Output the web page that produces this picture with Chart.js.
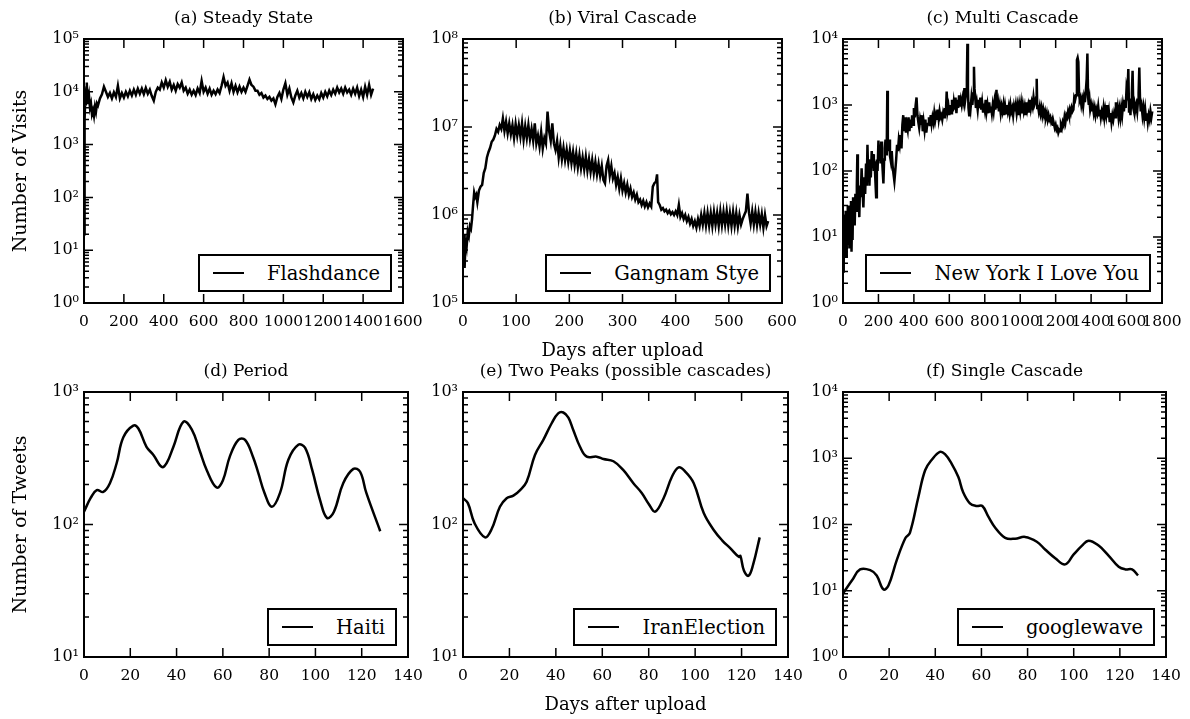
<!DOCTYPE html>
<html>
<head>
<meta charset="utf-8">
<script src="https://cdn.jsdelivr.net/npm/chart.js@4.4.1/dist/chart.umd.min.js"></script>
<style>
  body { margin: 0; background: #fff; width: 1190px; height: 719px; position: relative; overflow: hidden; font-family: "DejaVu Serif", serif; }
  .panel { position: absolute; }
  .panel canvas { position: absolute; left: 0; top: 0; }
  .legend { position: absolute; border: 2px solid #000; background: #fff; display: flex; align-items: center;
            height: 34px; font-size: 19.5px; padding: 0 10px 0 13px; white-space: nowrap; color: #000; }
  .legend .swatch { width: 31px; height: 0; border-top: 2.5px solid #000; margin-right: 23px; }
</style>
</head>
<body>
<script>
// (a) Flashdance, daily visits
const flashdanceDays = [
  0, 2, 4, 6, 8, 10, 12, 14, 16, 18, 20, 25, 30, 35, 40, 45, 50, 55, 60, 65, 70, 80, 90, 100,
  110, 120, 130, 140, 150, 160, 170, 180, 190, 200,
  210, 220, 230, 240, 250, 260, 270, 280, 290, 300,
  310, 320, 330, 340, 350, 360, 370, 380, 390, 400,
  410, 420, 430, 440, 450, 460, 470, 480, 490, 500,
  510, 520, 530, 540, 550, 560, 570, 580, 590, 600,
  610, 620, 630, 640, 650, 660, 670, 680, 690, 700,
  710, 720, 730, 740, 750, 760, 770, 780, 790, 800,
  810, 820, 830, 840, 850, 860, 870, 880, 890, 900,
  910, 920, 930, 940, 950, 960, 970, 980, 990, 1000,
  1010, 1020, 1030, 1040, 1050, 1060, 1070, 1080, 1090, 1100,
  1110, 1120, 1130, 1140, 1150, 1160, 1170, 1180, 1190, 1200,
  1210, 1220, 1230, 1240, 1250, 1260, 1270, 1280, 1290, 1300,
  1310, 1320, 1330, 1340, 1350, 1360, 1370, 1380, 1390, 1400,
  1410, 1420, 1430, 1440, 1450
];
const flashdanceVisits = [
  20, 300, 3000, 7000, 5500, 9000, 12000, 15000, 8000, 11000, 6000, 8500, 5000, 6000, 3800, 4500, 3500, 5200, 4200, 6000, 5500, 7500, 9000, 12500,
  10000, 8000, 9500, 7500, 9800, 8000, 13000, 7500, 9500, 7800,
  10000, 8200, 10500, 8500, 11000, 8800, 11500, 9200, 11500, 9000,
  11800, 9200, 11000, 8300, 6800, 10000, 12000, 11000, 15000, 12000,
  16500, 12500, 15500, 11000, 13500, 10500, 14000, 12000, 15000, 10500,
  12000, 9200, 11000, 8800, 10500, 8700, 11500, 9500, 16000, 10000,
  12000, 9200, 11500, 8800, 10500, 9000, 11000, 9500, 13000, 19000,
  13000, 15000, 10500, 14500, 10000, 13000, 9800, 12500, 10000, 12000,
  10000, 13000, 17000, 13500, 12500, 10500, 10500, 8800, 9500, 7800,
  8500, 7300, 8000, 6800, 7500, 5800, 8000, 9500, 7300, 11000,
  14500, 8800, 11500, 7800, 6300, 8500, 10500, 7800, 9500, 7500,
  10000, 8000, 9800, 7300, 9000, 7000, 8500, 7200, 9500, 7800,
  10000, 8200, 10500, 8700, 11000, 9200, 12000, 9700, 11500, 9200,
  12000, 9700, 11000, 8800, 11500, 9200, 12000, 8300, 11000, 8000,
  12500, 8800, 13500, 8800, 11500
];

// (b) Gangnam Style, daily visits
const gangnamDays = [
  0, 2, 3, 5, 7, 9, 11, 13, 15, 17,
  19, 21, 23, 25, 27, 30, 33, 36, 39, 42,
  45, 48, 51, 54, 57, 60, 63, 66, 69, 72,
  75, 78, 81, 84, 87, 90, 93, 96, 99, 102,
  105, 108, 111, 114, 117, 120, 123, 126, 129, 132,
  135, 138, 141, 144, 147, 150, 153, 156, 159, 162,
  165, 168, 171, 174, 177, 180, 183, 186, 189, 192,
  195, 198, 201, 204, 207, 210, 213, 216, 219, 222,
  225, 228, 231, 234, 237, 240, 243, 246, 249, 252,
  255, 258, 261, 264, 267, 270, 273, 276, 279, 282,
  285, 288, 291, 294, 297, 300, 303, 306, 309, 312,
  315, 318, 321, 324, 327, 330, 333, 336, 339, 342,
  345, 348, 351, 354, 357, 360, 363, 365, 367, 370,
  373, 376, 379, 382, 385, 388, 391, 394, 397, 400,
  403, 406, 409, 412, 415, 418, 421, 424, 427, 430,
  433, 436, 439, 442, 445, 448, 451, 454, 457, 460,
  463, 466, 469, 472, 475, 478, 481, 484, 487, 490,
  493, 496, 499, 502, 505, 508, 511, 514, 517, 520,
  523, 526, 529, 532, 535, 538, 541, 544, 547, 550,
  553, 556, 559, 562, 565, 568, 571, 574
];
const gangnamVisits = [
  420000, 600000, 250000, 550000, 450000, 650000, 580000, 750000, 700000, 900000,
  1300000, 1800000, 1600000, 1700000, 1400000, 1900000, 2100000, 2200000, 3000000, 3400000,
  4500000, 5200000, 5800000, 6800000, 7200000, 8000000, 9500000, 8800000, 10500000, 9500000,
  12500000, 9000000, 11500000, 8500000, 11000000, 8300000, 10500000, 7500000, 10800000, 8000000,
  10500000, 7800000, 11000000, 7200000, 10200000, 7500000, 10500000, 7300000, 9500000, 7000000,
  11000000, 6500000, 8000000, 6000000, 8800000, 5700000, 7500000, 6500000, 15000000, 9000000,
  7000000, 11000000, 6500000, 5500000, 7000000, 4500000, 6200000, 4300000, 5800000, 4200000,
  5500000, 4000000, 5400000, 3900000, 5200000, 3700000, 5000000, 3500000, 4800000, 3400000,
  4500000, 3300000, 4600000, 3200000, 4300000, 3100000, 4200000, 3000000, 4000000, 2900000,
  3800000, 2800000, 3600000, 2500000, 2300000, 3600000, 4200000, 2800000, 3600000, 2600000,
  3000000, 2200000, 2700000, 2000000, 2600000, 1900000, 2300000, 1800000, 2200000, 1700000,
  2000000, 1600000, 1800000, 1500000, 1700000, 1400000, 1500000, 1300000, 1450000, 1250000,
  1400000, 1220000, 1350000, 1250000, 2100000, 2300000, 2400000, 2900000, 1400000, 1300000,
  1150000, 1200000, 1100000, 1150000, 1050000, 1120000, 1020000, 1080000, 1000000, 1100000,
  1000000, 1300000, 950000, 1050000, 900000, 1000000, 850000, 950000, 800000, 900000,
  750000, 850000, 720000, 900000, 750000, 1000000, 780000, 1050000, 760000, 1050000,
  760000, 1050000, 750000, 1080000, 780000, 1050000, 750000, 1100000, 770000, 1080000,
  780000, 1100000, 760000, 1050000, 750000, 1080000, 760000, 1050000, 740000, 1000000,
  780000, 900000, 1000000, 1100000, 1750000, 1050000, 800000, 1100000, 780000, 1080000,
  770000, 1050000, 780000, 1020000, 720000, 1000000, 750000, 850000
];

// (c) New York I Love You, daily visits
const newYorkDays = [
  0, 3, 5, 7, 9, 11, 13, 15, 18, 21,
  24, 27, 30, 33, 36, 39, 42, 45, 48, 51,
  54, 57, 60, 63, 66, 70, 74, 78, 81, 84,
  88, 92, 96, 100, 105, 110, 115, 120, 125, 130,
  134, 138, 142, 146, 149, 153, 157, 162, 166, 170,
  174, 178, 182, 187, 191, 195, 200, 204, 208, 212,
  216, 220, 224, 228, 232, 236, 240, 244, 247, 250,
  253, 257, 261, 265, 270, 275, 280, 285, 290, 295,
  300, 305, 310, 315, 320, 325, 330, 335, 340, 345,
  350, 355, 360, 365, 370, 375, 380, 385, 390, 395,
  400, 405, 410, 415, 420, 425, 430, 435, 440, 445,
  450, 455, 460, 465, 470, 475, 480, 485, 490, 495,
  500, 505, 510, 515, 520, 525, 530, 535, 540, 545,
  550, 555, 560, 565, 570, 575, 580, 585, 590, 595,
  600, 605, 610, 615, 620, 625, 630, 635, 640, 645,
  650, 655, 660, 665, 670, 676, 681, 685, 690, 695,
  699, 702, 705, 708, 712, 716, 720, 725, 730, 735,
  739, 742, 746, 750, 755, 760, 765, 770, 775, 780,
  785, 790, 795, 800, 805, 810, 815, 820, 825, 830,
  835, 840, 845, 850, 855, 860, 866, 870, 875, 880,
  885, 890, 895, 900, 905, 910, 915, 920, 925, 930,
  935, 940, 945, 950, 955, 960, 965, 970, 975, 980,
  985, 990, 995, 1000, 1005, 1010, 1015, 1020, 1025, 1030,
  1035, 1040, 1045, 1050, 1055, 1060, 1065, 1070, 1075, 1080,
  1085, 1090, 1093, 1096, 1100, 1105, 1110, 1115, 1120, 1125,
  1130, 1135, 1140, 1145, 1150, 1155, 1160, 1165, 1170, 1175,
  1180, 1185, 1190, 1195, 1200, 1205, 1210, 1215, 1220, 1225,
  1230, 1235, 1240, 1245, 1250, 1255, 1260, 1265, 1270, 1275,
  1280, 1285, 1290, 1295, 1300, 1305, 1310, 1315, 1320, 1324,
  1328, 1332, 1336, 1340, 1345, 1350, 1355, 1360, 1365, 1370,
  1375, 1379, 1383, 1387, 1391, 1395, 1400, 1405, 1410, 1415,
  1420, 1425, 1430, 1435, 1440, 1445, 1450, 1455, 1460, 1465,
  1470, 1475, 1480, 1485, 1490, 1495, 1500, 1505, 1510, 1515,
  1520, 1525, 1530, 1535, 1540, 1545, 1550, 1555, 1560, 1565,
  1570, 1575, 1580, 1585, 1590, 1595, 1600, 1605, 1610, 1614,
  1618, 1622, 1626, 1630, 1634, 1638, 1642, 1646, 1650, 1655,
  1660, 1665, 1668, 1672, 1676, 1680, 1685, 1690, 1695, 1700,
  1705, 1710, 1715, 1720, 1725, 1730, 1735, 1740, 1745
];
const newYorkVisits = [
  3, 20, 4, 15, 6, 22, 8, 25, 5, 18,
  8, 30, 10, 25, 7, 30, 12, 35, 6, 20,
  9, 40, 20, 30, 15, 45, 25, 60, 180, 30,
  50, 20, 60, 40, 110, 50, 28, 80, 45, 130,
  60, 250, 90, 150, 60, 120, 80, 200, 120, 180,
  100, 140, 80, 40, 150, 100, 290, 150, 250, 130,
  280, 160, 100, 65, 150, 220, 300, 180, 250, 1650,
  300, 200, 300, 170, 140, 200, 120, 90, 70, 100,
  150, 250, 200, 300, 250, 350, 220, 500, 700, 400,
  650, 380, 500, 420, 650, 400, 600, 450, 700, 500,
  900, 650, 1000, 1300, 700, 550, 450, 600, 500, 700,
  400, 550, 420, 600, 380, 500, 520, 650, 480, 700,
  520, 650, 550, 750, 580, 700, 600, 850, 620, 800,
  650, 700, 600, 750, 650, 900, 700, 1600, 800, 950,
  700, 1000, 750, 1200, 800, 1100, 850, 1300, 750, 1200,
  900, 1400, 950, 1200, 1000, 1300, 1100, 1800, 1200, 1500,
  2500, 8500, 1800, 900, 700, 1100, 900, 1300, 1000, 1500,
  3800, 1800, 1300, 900, 1100, 850, 1200, 900, 1300, 850,
  1100, 800, 1050, 850, 1200, 800, 1000, 750, 1100, 800,
  950, 750, 1000, 800, 1100, 850, 1700, 900, 1100, 800,
  1000, 750, 950, 800, 1000, 700, 950, 750, 1000, 800,
  950, 750, 1000, 800, 900, 700, 950, 800, 1000, 750,
  950, 700, 1000, 800, 1050, 750, 1000, 800, 950, 700,
  1100, 850, 1000, 800, 1200, 900, 1100, 950, 1300, 1000,
  1100, 1300, 2500, 900, 1000, 800, 950, 750, 900, 700,
  850, 700, 800, 650, 750, 600, 700, 600, 650, 550,
  600, 500, 520, 450, 500, 420, 450, 380, 420, 400,
  500, 450, 550, 500, 650, 550, 700, 650, 800, 700,
  850, 750, 900, 800, 850, 1300, 1200, 1400, 4800, 5200,
  4500, 1500, 1200, 1300, 1000, 1200, 950, 1300, 1100, 1600,
  2500, 6000, 1300, 1000, 1200, 850, 1000, 800, 950, 750,
  900, 700, 850, 750, 950, 700, 850, 650, 800, 700,
  900, 650, 850, 700, 1000, 650, 800, 550, 750, 550,
  700, 600, 750, 650, 1100, 700, 900, 650, 850, 650,
  900, 700, 1000, 800, 1200, 900, 1800, 1500, 3500, 800,
  1000, 700, 1200, 1500, 3300, 900, 800, 1000, 850, 1000,
  800, 1200, 1500, 3700, 1200, 800, 950, 700, 900, 650,
  850, 600, 750, 550, 700, 600, 800, 650, 800
];

// (d) Haiti, daily tweets
const haitiDays = [
  0, 3, 5.5, 8.3, 11.2, 14.1, 17, 21.3, 23.5, 27,
  30, 33.6, 35.7, 38.6, 43, 46.6, 50, 53, 57.3, 60,
  63, 66.7, 69.6, 73, 75.3, 78, 81.2, 84.7, 88.3, 92.6,
  95.5, 98.6, 102, 105, 108, 112, 116.4, 119.3, 122, 128
];
const haitiTweets = [
  125, 160, 182, 176, 205, 290, 455, 557, 530, 386,
  335, 272, 290, 385, 597, 520, 360, 258, 190, 215,
  325, 435, 435, 325, 245, 173, 136, 173, 308, 400,
  380, 258, 153, 112, 125, 205, 263, 250, 173, 89
];

// (e) IranElection, daily tweets
const iranDays = [
  0, 2.1, 5, 9.5, 12.3, 15.9, 18.8, 21.7, 24.6, 27.4,
  31, 34.6, 38.2, 41, 43.2, 45.4, 47.5, 50.4, 53.3, 57.6,
  60.5, 64.8, 69, 73.4, 77, 80, 82.8, 86.4, 90, 92.9,
  95.8, 99.4, 103.7, 108, 111.6, 115.2, 118.8, 119.5, 121, 123,
  125, 127.8
];
const iranTweets = [
  158, 145, 102, 80, 92, 136, 158, 165, 182, 210,
  335, 435, 581, 690, 700, 640, 517, 386, 325, 325,
  312, 300, 258, 205, 173, 143, 125, 158, 229, 270,
  250, 205, 122, 91, 76, 66, 57, 58, 45, 41,
  50, 80
];

// (f) googlewave, daily tweets
const googlewaveDays = [
  0, 4, 7.4, 11.8, 14.6, 17.5, 19.7, 23.3, 27, 29,
  32.7, 35.6, 38.5, 42, 44.2, 47, 50, 52, 55, 57.9,
  60.4, 63, 65.9, 70.3, 74.6, 78.9, 84, 87.6, 92, 96.3,
  99.9, 103.6, 106.5, 110.8, 115.1, 119.5, 122.4, 125.3, 127.9
];
const googlewaveTweets = [
  9.1, 14.5, 21, 20.5, 17, 10.5, 12, 29, 62, 75,
  263, 660, 950, 1250, 1150, 840, 520, 312, 209, 190,
  190, 131, 90, 63, 61, 65, 55, 42, 31, 25,
  35, 48, 57, 48, 34, 23, 21, 21, 17
];

// axis ticks
const steadyXTicks = [0, 200, 400, 600, 800, 1000, 1200, 1400, 1600];
const viralXTicks = [0, 100, 200, 300, 400, 500, 600];
const multiXTicks = [0, 200, 400, 600, 800, 1000, 1200, 1400, 1600, 1800];
const tweetXTicks = [0, 20, 40, 60, 80, 100, 120, 140];
const steadyYTicks = [1, 10, 100, 1000, 10000, 100000];
const viralYTicks = [100000, 1000000, 10000000, 100000000];
const multiYTicks = [1, 10, 100, 1000, 10000];
const tweetYTicks = [10, 100, 1000];
const singleYTicks = [1, 10, 100, 1000, 10000];

const FONT = '"DejaVu Serif", serif';
const TITLE_H = 39;
const X_AXIS_H = 60;
const PAD_RIGHT = 24;
const MAJOR = 9;
const MINOR = 5;
const SUP = ["\u2070", "\u00b9", "\u00b2", "\u00b3", "\u2074", "\u2075", "\u2076", "\u2077", "\u2078", "\u2079"];

Chart.defaults.color = "#000";
Chart.defaults.font.family = FONT;

// box round the plot, with inward ticks on all four sides (minor ones on the log axis)
const frameAndTicks = {
  id: "frameAndTicks",
  afterDraw(chart) {
    const { ctx, chartArea: area } = chart;
    const x = chart.scales.x;
    const y = chart.scales.y;
    ctx.save();
    ctx.strokeStyle = "#000";
    ctx.lineWidth = 1.5;
    ctx.beginPath();
    x.ticks.forEach((t) => {
      const px = x.getPixelForValue(t.value);
      ctx.moveTo(px, area.bottom);
      ctx.lineTo(px, area.bottom - MAJOR);
      ctx.moveTo(px, area.top);
      ctx.lineTo(px, area.top + MAJOR);
    });
    const lo = Math.round(Math.log10(y.min));
    const hi = Math.round(Math.log10(y.max));
    for (let e = lo; e <= hi; e++) {
      for (let k = 1; k <= 9; k++) {
        const v = k * Math.pow(10, e);
        if (v > y.max * 1.0001) break;
        const py = y.getPixelForValue(v);
        const len = k === 1 ? MAJOR : MINOR;
        ctx.moveTo(area.left, py);
        ctx.lineTo(area.left + len, py);
        ctx.moveTo(area.right, py);
        ctx.lineTo(area.right - len, py);
      }
    }
    ctx.stroke();
    ctx.lineWidth = 2;
    ctx.strokeRect(area.left, area.top, area.right - area.left, area.bottom - area.top);
    ctx.restore();
  },
};

const panels = [
  { title: "(a) Steady State", label: "Flashdance", days: flashdanceDays, counts: flashdanceVisits,
    xTicks: steadyXTicks, yTicks: steadyYTicks, left: 0, top: 0, yAxisW: 84, plotW: 319, plotH: 264,
    yTitle: "Number of Visits", xTitle: "", smooth: false },
  { title: "(b) Viral Cascade", label: "Gangnam Stye", days: gangnamDays, counts: gangnamVisits,
    xTicks: viralXTicks, yTicks: viralYTicks, left: 403, top: 0, yAxisW: 60, plotW: 319, plotH: 264,
    yTitle: "", xTitle: "Days after upload", smooth: false },
  { title: "(c) Multi Cascade", label: "New York I Love You", days: newYorkDays, counts: newYorkVisits,
    xTicks: multiXTicks, yTicks: multiYTicks, left: 783, top: 0, yAxisW: 60, plotW: 319, plotH: 264,
    yTitle: "", xTitle: "", smooth: false },
  { title: "(d) Period", label: "Haiti", days: haitiDays, counts: haitiTweets,
    xTicks: tweetXTicks, yTicks: tweetYTicks, left: 0, top: 353, yAxisW: 84, plotW: 324, plotH: 265,
    yTitle: "Number of Tweets", xTitle: "", smooth: true },
  { title: "(e) Two Peaks (possible cascades)", label: "IranElection", days: iranDays, counts: iranTweets,
    xTicks: tweetXTicks, yTicks: tweetYTicks, left: 403, top: 353, yAxisW: 60, plotW: 325, plotH: 265,
    yTitle: "", xTitle: "Days after upload", smooth: true },
  { title: "(f) Single Cascade", label: "googlewave", days: googlewaveDays, counts: googlewaveTweets,
    xTicks: tweetXTicks, yTicks: singleYTicks, left: 783, top: 353, yAxisW: 60, plotW: 323, plotH: 265,
    yTitle: "", xTitle: "", smooth: true },
];

function makePanel(p) {
  const W = p.yAxisW + p.plotW + PAD_RIGHT;
  const H = TITLE_H + p.plotH + X_AXIS_H;
  const wrap = document.createElement("div");
  wrap.className = "panel";
  wrap.style.left = p.left + "px";
  wrap.style.top = p.top + "px";
  wrap.style.width = W + "px";
  wrap.style.height = H + "px";
  const canvas = document.createElement("canvas");
  canvas.width = W;
  canvas.height = H;
  canvas.style.width = W + "px";
  canvas.style.height = H + "px";
  wrap.appendChild(canvas);
  document.body.appendChild(wrap);

  const chart = new Chart(canvas.getContext("2d"), {
    type: "line",
    data: {
      datasets: [
        {
          label: p.label,
          data: p.days.map((d, i) => ({ x: d, y: p.counts[i] })),
          borderColor: "#000",
          borderWidth: 2.5,
          pointRadius: 0,
          fill: false,
          tension: p.smooth ? 0.4 : 0,
        },
      ],
    },
    options: {
      responsive: false,
      animation: false,
      devicePixelRatio: 1,
      events: [],
      layout: { padding: { left: 0, top: 0, right: PAD_RIGHT, bottom: 0 } },
      plugins: {
        legend: { display: false },
        tooltip: { enabled: false },
        title: {
          display: true,
          text: p.title,
          fullSize: false,
          color: "#000",
          font: { family: FONT, size: 17, weight: "normal", lineHeight: "20px" },
          padding: { top: 9, bottom: 10 },
        },
      },
      scales: {
        x: {
          type: "linear",
          min: p.xTicks[0],
          max: p.xTicks[p.xTicks.length - 1],
          grid: { display: false, drawTicks: false },
          border: { display: false },
          ticks: {
            autoSkip: false,
            maxRotation: 0,
            padding: 10,
            color: "#000",
            font: { family: FONT, size: 15.5 },
            callback: (v) => String(v),
          },
          afterBuildTicks: (s) => { s.ticks = p.xTicks.map((v) => ({ value: v })); },
          afterFit: (s) => { s.height = X_AXIS_H; s.paddingLeft = 0; s.paddingRight = 0; },
          title: {
            display: !!p.xTitle,
            text: p.xTitle,
            color: "#000",
            font: { family: FONT, size: 18, lineHeight: "20px" },
            padding: { top: 0, bottom: 2 },
          },
        },
        y: {
          type: "logarithmic",
          min: p.yTicks[0],
          max: p.yTicks[p.yTicks.length - 1],
          grid: { display: false, drawTicks: false },
          border: { display: false },
          ticks: {
            autoSkip: false,
            padding: 5,
            color: "#000",
            font: { family: FONT, size: 16 },
            callback: (v) => "10" + SUP[Math.round(Math.log10(v))],
          },
          afterBuildTicks: (s) => { s.ticks = p.yTicks.map((v) => ({ value: v })); },
          afterFit: (s) => { s.width = p.yAxisW; s.paddingTop = 0; s.paddingBottom = 0; },
          title: {
            display: !!p.yTitle,
            text: p.yTitle,
            color: "#000",
            font: { family: FONT, size: 19, lineHeight: "20px" },
            padding: { top: 11, bottom: 0 },
          },
        },
      },
    },
    plugins: [frameAndTicks],
  });

  // legend box in the lower right corner of the plot
  const area = chart.chartArea;
  const legend = document.createElement("div");
  legend.className = "legend";
  legend.style.right = (W - area.right + 11) + "px";
  legend.style.bottom = (H - area.bottom + 11) + "px";
  const swatch = document.createElement("span");
  swatch.className = "swatch";
  const text = document.createElement("span");
  text.textContent = chart.data.datasets[0].label;
  legend.appendChild(swatch);
  legend.appendChild(text);
  wrap.appendChild(legend);
  return chart;
}

panels.forEach(makePanel);
</script>
</body>
</html>
